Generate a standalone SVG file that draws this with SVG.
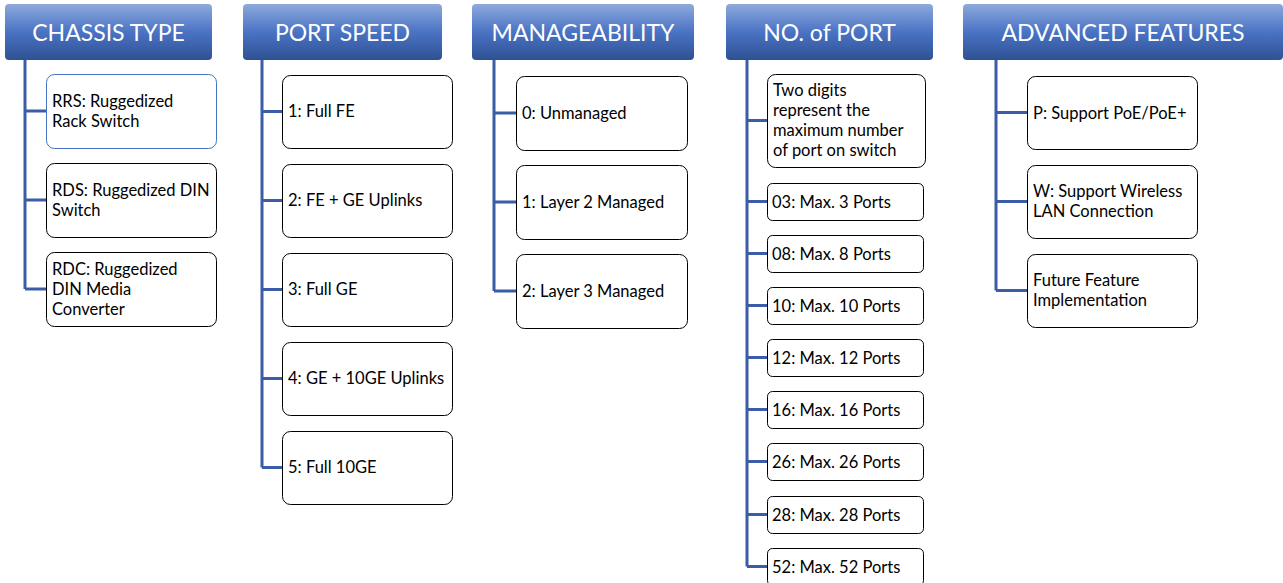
<svg xmlns="http://www.w3.org/2000/svg" width="1283" height="583" viewBox="0 0 1283 583">
<defs>
<linearGradient id="hg" x1="0" y1="0" x2="0" y2="1">
<stop offset="0" stop-color="#8eaadc"/>
<stop offset="0.5" stop-color="#4a73c4"/>
<stop offset="1" stop-color="#2f5193"/>
</linearGradient>
<style>
.hdr{fill:url(#hg);}
.ht{font-family:Lato,"Liberation Sans",sans-serif;font-size:23px;fill:#fff;text-anchor:middle;}
.bx{fill:#fff;stroke:#000;stroke-width:1;}
.bxb{fill:#fff;stroke:#4472c4;stroke-width:1;}
.t{font-family:Lato,"Liberation Sans",sans-serif;font-size:16.5px;fill:#000;}
.cn{fill:none;stroke:#3b5ca6;stroke-width:3;}
</style>
</defs>
<g id="connectors">
<path class="cn" d="M25 60V289M25 111H46M25 200H46M25 289H46"/>
<path class="cn" d="M262 60V467.5M262 111.5H282M262 200.5H282M262 289.5H282M262 378.5H282M262 467.5H282"/>
<path class="cn" d="M494 60V291M494 113H516M494 202H516M494 291H516"/>
<path class="cn" d="M747 60V566.5M747 120.5H767M747 201.5H767M747 253.5H767M747 305.5H767M747 357.5H767M747 409.5H767M747 461.5H767M747 514.5H767M747 566.5H767"/>
<path class="cn" d="M996 60V290.5M996 112.5H1027M996 201.5H1027M996 290.5H1027"/>
</g>
<g id="h-chassis"><rect class="hdr" x="5" y="4" width="207" height="56" rx="4"/><text class="ht" x="108.5" y="41">CHASSIS TYPE</text></g>
<g id="h-speed"><rect class="hdr" x="243" y="4" width="199" height="56" rx="4"/><text class="ht" x="342.5" y="41">PORT SPEED</text></g>
<g id="h-manage"><rect class="hdr" x="472" y="4" width="222" height="56" rx="4"/><text class="ht" x="583" y="41">MANAGEABILITY</text></g>
<g id="h-ports"><rect class="hdr" x="726" y="4" width="207" height="56" rx="4"/><text class="ht" x="829.5" y="41">NO. of PORT</text></g>
<g id="h-adv"><rect class="hdr" x="963" y="4" width="320" height="56" rx="4"/><text class="ht" x="1123" y="41">ADVANCED FEATURES</text></g>

<g id="n-rrs"><rect class="bxb" x="46.5" y="74.5" width="170" height="74" rx="8"/><text class="t" x="52" y="106.5">RRS: Ruggedized</text><text class="t" x="52" y="126.5">Rack Switch</text></g>
<g id="n-rds"><rect class="bx" x="46.5" y="163.5" width="170" height="74" rx="8"/><text class="t" x="52" y="195.5">RDS: Ruggedized DIN</text><text class="t" x="52" y="215.5">Switch</text></g>
<g id="n-rdc"><rect class="bx" x="46.5" y="252.5" width="170" height="74" rx="8"/><text class="t" x="52" y="274.5">RDC: Ruggedized</text><text class="t" x="52" y="294.5">DIN Media</text><text class="t" x="52" y="314.5">Converter</text></g>

<g id="n-s1"><rect class="bx" x="282.5" y="75.5" width="170" height="73" rx="8"/><text class="t" x="288" y="117">1: Full FE</text></g>
<g id="n-s2"><rect class="bx" x="282.5" y="164.5" width="170" height="73" rx="8"/><text class="t" x="288" y="206">2: FE + GE Uplinks</text></g>
<g id="n-s3"><rect class="bx" x="282.5" y="253.5" width="170" height="73" rx="8"/><text class="t" x="288" y="295">3: Full GE</text></g>
<g id="n-s4"><rect class="bx" x="282.5" y="342.5" width="170" height="73" rx="8"/><text class="t" x="288" y="384">4: GE + 10GE Uplinks</text></g>
<g id="n-s5"><rect class="bx" x="282.5" y="431.5" width="170" height="73" rx="8"/><text class="t" x="288" y="473">5: Full 10GE</text></g>

<g id="n-m0"><rect class="bx" x="516.5" y="76.5" width="171" height="74" rx="8"/><text class="t" x="522" y="119">0: Unmanaged</text></g>
<g id="n-m1"><rect class="bx" x="516.5" y="165.5" width="171" height="74" rx="8"/><text class="t" x="522" y="208">1: Layer 2 Managed</text></g>
<g id="n-m2"><rect class="bx" x="516.5" y="254.5" width="171" height="74" rx="8"/><text class="t" x="522" y="297">2: Layer 3 Managed</text></g>

<g id="n-pdesc"><rect class="bx" x="767.5" y="74.5" width="158" height="93" rx="8"/><text class="t" x="773" y="96">Two digits</text><text class="t" x="773" y="116">represent the</text><text class="t" x="773" y="136">maximum number</text><text class="t" x="773" y="156">of port on switch</text></g>
<g id="n-p03"><rect class="bx" x="767.5" y="183.5" width="156" height="37" rx="5"/><text class="t" x="772" y="207.5">03: Max. 3 Ports</text></g>
<g id="n-p08"><rect class="bx" x="767.5" y="235.5" width="156" height="37" rx="5"/><text class="t" x="772" y="259.5">08: Max. 8 Ports</text></g>
<g id="n-p10"><rect class="bx" x="767.5" y="287.5" width="156" height="37" rx="5"/><text class="t" x="772" y="311.5">10: Max. 10 Ports</text></g>
<g id="n-p12"><rect class="bx" x="767.5" y="339.5" width="156" height="37" rx="5"/><text class="t" x="772" y="363.5">12: Max. 12 Ports</text></g>
<g id="n-p16"><rect class="bx" x="767.5" y="391.5" width="156" height="37" rx="5"/><text class="t" x="772" y="415.5">16: Max. 16 Ports</text></g>
<g id="n-p26"><rect class="bx" x="767.5" y="443.5" width="156" height="37" rx="5"/><text class="t" x="772" y="467.5">26: Max. 26 Ports</text></g>
<g id="n-p28"><rect class="bx" x="767.5" y="496.5" width="156" height="37" rx="5"/><text class="t" x="772" y="520.5">28: Max. 28 Ports</text></g>
<g id="n-p52"><rect class="bx" x="767.5" y="548.5" width="156" height="37" rx="5"/><text class="t" x="772" y="572.5">52: Max. 52 Ports</text></g>

<g id="n-ap"><rect class="bx" x="1027.5" y="76.5" width="170" height="73" rx="8"/><text class="t" x="1033" y="118.5">P: Support PoE/PoE+</text></g>
<g id="n-aw"><rect class="bx" x="1027.5" y="165.5" width="170" height="73" rx="8"/><text class="t" x="1033" y="197">W: Support Wireless</text><text class="t" x="1033" y="217">LAN Connection</text></g>
<g id="n-af"><rect class="bx" x="1027.5" y="254.5" width="170" height="73" rx="8"/><text class="t" x="1033" y="286">Future Feature</text><text class="t" x="1033" y="306">Implementation</text></g>
</svg>
